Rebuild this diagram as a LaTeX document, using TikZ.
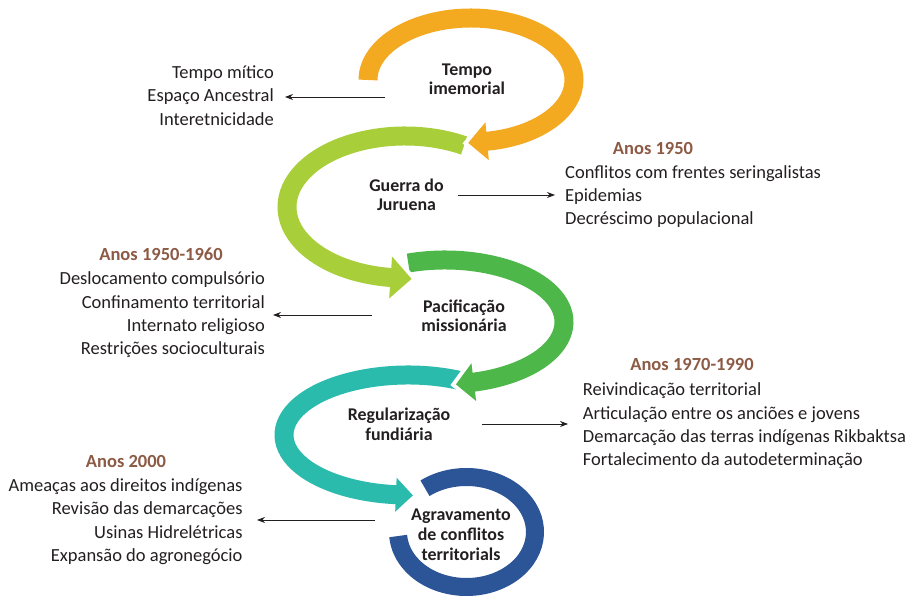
\documentclass[tikz,border=0pt]{standalone}
\usepackage{fontspec}
\setmainfont{Carlito}
\usetikzlibrary{calc,arrows.meta}
\definecolor{cOrange}{RGB}{243,170,33}
\definecolor{cLime}{RGB}{168,206,58}
\definecolor{cGreen}{RGB}{77,183,74}
\definecolor{cTeal}{RGB}{43,187,173}
\definecolor{cBlue}{RGB}{43,85,151}
\definecolor{cHead}{RGB}{140,90,69}
\definecolor{cText}{RGB}{35,31,32}
\begin{document}
\begin{tikzpicture}[x=1pt,y=1pt,
  band/.style={line width=19pt},
  gapline/.style={draw=white,line width=8pt,line join=miter},
  title/.style={font=\fontsize{17.9}{20}\selectfont\bfseries,text=cText,inner sep=0pt,anchor=base},
  itemR/.style={font=\fontsize{18.5}{23}\selectfont,text=cText,inner sep=0pt,anchor=base east},
  itemL/.style={font=\fontsize{18.5}{23}\selectfont,text=cText,inner sep=0pt,anchor=base west},
  head/.style={font=\fontsize{18.5}{23}\selectfont\bfseries,text=cHead,inner sep=0pt,anchor=base},
  conn/.style={line width=0.8pt,draw=cText,-{Stealth[length=8pt,width=6pt]}}]
\useasboundingbox (0,0) rectangle (909,596);

% ---- centres of the loops
\coordinate (cO) at (471,516);
\coordinate (cL) at (405,389);
\coordinate (cG) at (445,274);
\coordinate (cT) at (408,161);
\coordinate (cB) at (466.5,64);

% ---- bands
\draw[band,cOrange] (cO) ++(180:103pt and 62pt) arc[start angle=180,end angle=-82,x radius=103pt,y radius=62pt];
\draw[band,cLime] (cL) ++(60:118pt and 71pt) arc[start angle=60,end angle=264,x radius=118pt,y radius=71pt];
\draw[band,cGreen] (cG) ++(108:119pt and 62pt) arc[start angle=108,end angle=-77,x radius=119pt,y radius=62pt];
\draw[band,cTeal] (cT) ++(64.7:124pt and 60pt) arc[start angle=64.7,end angle=265.4,x radius=124pt,y radius=60pt];
\draw[band,cBlue,line width=18pt] (cB) ++(127.3:68.5pt and 55pt) arc[start angle=127.3,end angle=-175.8,x radius=68.5pt,y radius=55pt];

% ---- arrow heads
\path (cO) ++(-81:103pt and 62pt) coordinate (oB);
\path (cO) ++(-82:103pt and 62pt) coordinate (oD);
\coordinate (oT) at ($(oB)!19pt!(oD)$);
\coordinate (o1) at ($(oB)!19pt!90:(oD)$);
\coordinate (o2) at ($(oB)!19pt!-90:(oD)$);
\draw[gapline] (o1) -- (oT) -- (o2);
\fill[cOrange] (o1) -- (oT) -- (o2) -- cycle;

\path (cL) ++(263:118pt and 71pt) coordinate (lB);
\path (cL) ++(264:118pt and 71pt) coordinate (lD);
\coordinate (lT) at ($(lB)!21pt!(lD)$);
\coordinate (l1) at ($(lB)!21pt!90:(lD)$);
\coordinate (l2) at ($(lB)!21pt!-90:(lD)$);
\draw[gapline] (l1) -- (lT) -- (l2);
\fill[cLime] (l1) -- (lT) -- (l2) -- cycle;

\path (cG) ++(-76:119pt and 62pt) coordinate (gB);
\path (cG) ++(-77:119pt and 62pt) coordinate (gD);
\coordinate (gT) at ($(gB)!18pt!(gD)$);
\coordinate (g1) at ($(gB)!19pt!90:(gD)$);
\coordinate (g2) at ($(gB)!19pt!-90:(gD)$);
\draw[gapline] (g1) -- (gT) -- (g2);
\fill[cGreen] (g1) -- (gT) -- (g2) -- cycle;

\path (cT) ++(264.4:124pt and 60pt) coordinate (tB);
\path (cT) ++(265.4:124pt and 60pt) coordinate (tD);
\coordinate (tT) at ($(tB)!17pt!(tD)$);
\coordinate (t1) at ($(tB)!17pt!90:(tD)$);
\coordinate (t2) at ($(tB)!17pt!-90:(tD)$);
\draw[gapline] (t1) -- (tT) -- (t2);
\fill[cTeal] (t1) -- (tT) -- (t2) -- cycle;

% ---- titles
\node[title] (ti1a) at (467,520) {Tempo};
\node[title] (ti1b) at (467,501) {imemorial};
\node[title] (ti2a) at (406.5,404) {Guerra do};
\node[title] (ti2b) at (406.5,385) {Juruena};
\node[title] (ti3a) at (464,283) {Pacificação};
\node[title] (ti3b) at (464,264) {missionária};
\node[title] (ti4a) at (399,175) {Regularização};
\node[title] (ti4b) at (399,155) {fundiária};
\node[title] (ti5a) at (461,75) {Agravamento};
\node[title] (ti5b) at (461,55) {de conflitos};
\node[title] (ti5c) at (461,35) {territorials};

% ---- list 1 (left)
\node[itemR] (l1a) at (274,517.5) {Tempo mítico};
\node[itemR] (l1b) at (274,494) {Espaço Ancestral};
\node[itemR] (l1c) at (274,470.5) {Interetnicidade};

% ---- list 2 (right)
\node[head] (h2) at (653,441) {Anos 1950};
\node[itemL] (l2a) at (565,417.7) {Conflitos com frentes seringalistas};
\node[itemL] (l2b) at (565,394.3) {Epidemias};
\node[itemL] (l2c) at (565,371) {Decréscimo populacional};

% ---- list 3 (left)
\node[head] (h3) at (161,335.3) {Anos 1950-1960};
\node[itemR] (l3a) at (265,311) {Deslocamento compulsório};
\node[itemR] (l3b) at (265,287.7) {Confinamento territorial};
\node[itemR] (l3c) at (265,264.3) {Internato religioso};
\node[itemR] (l3d) at (265,241) {Restrições socioculturais};

% ---- list 4 (right)
\node[head] (h4) at (692,225.3) {Anos 1970-1990};
\node[itemL] (l4a) at (582.7,200) {Reivindicação territorial};
\node[itemL] (l4b) at (582.7,176.7) {Articulação entre os anciões e jovens};
\node[itemL] (l4c) at (582.7,153.4) {Demarcação das terras indígenas Rikbaktsa};
\node[itemL] (l4d) at (582.7,130) {Fortalecimento da autodeterminação};

% ---- list 5 (left)
\node[head] (h5) at (126,128.7) {Anos 2000};
\node[itemR] (l5a) at (242.7,104.5) {Ameaças aos direitos indígenas};
\node[itemR] (l5b) at (242.7,81.2) {Revisão das demarcações};
\node[itemR] (l5c) at (242.7,57.9) {Usinas Hidrelétricas};
\node[itemR] (l5d) at (242.7,34.6) {Expansão do agronegócio};

% ---- connectors
\coordinate (a1s) at (385,499); \coordinate (a1e) at (285,499);
\coordinate (a2s) at (458,401); \coordinate (a2e) at (555,401);
\coordinate (a3s) at (372,281); \coordinate (a3e) at (273,281);
\coordinate (a4s) at (482,172); \coordinate (a4e) at (568,172);
\coordinate (a5s) at (375,76);  \coordinate (a5e) at (257,76);
\draw[conn] (a1s) -- (a1e);
\draw[conn] (a2s) -- (a2e);
\draw[conn] (a3s) -- (a3e);
\draw[conn] (a4s) -- (a4e);
\draw[conn] (a5s) -- (a5e);
\end{tikzpicture}
\end{document}
